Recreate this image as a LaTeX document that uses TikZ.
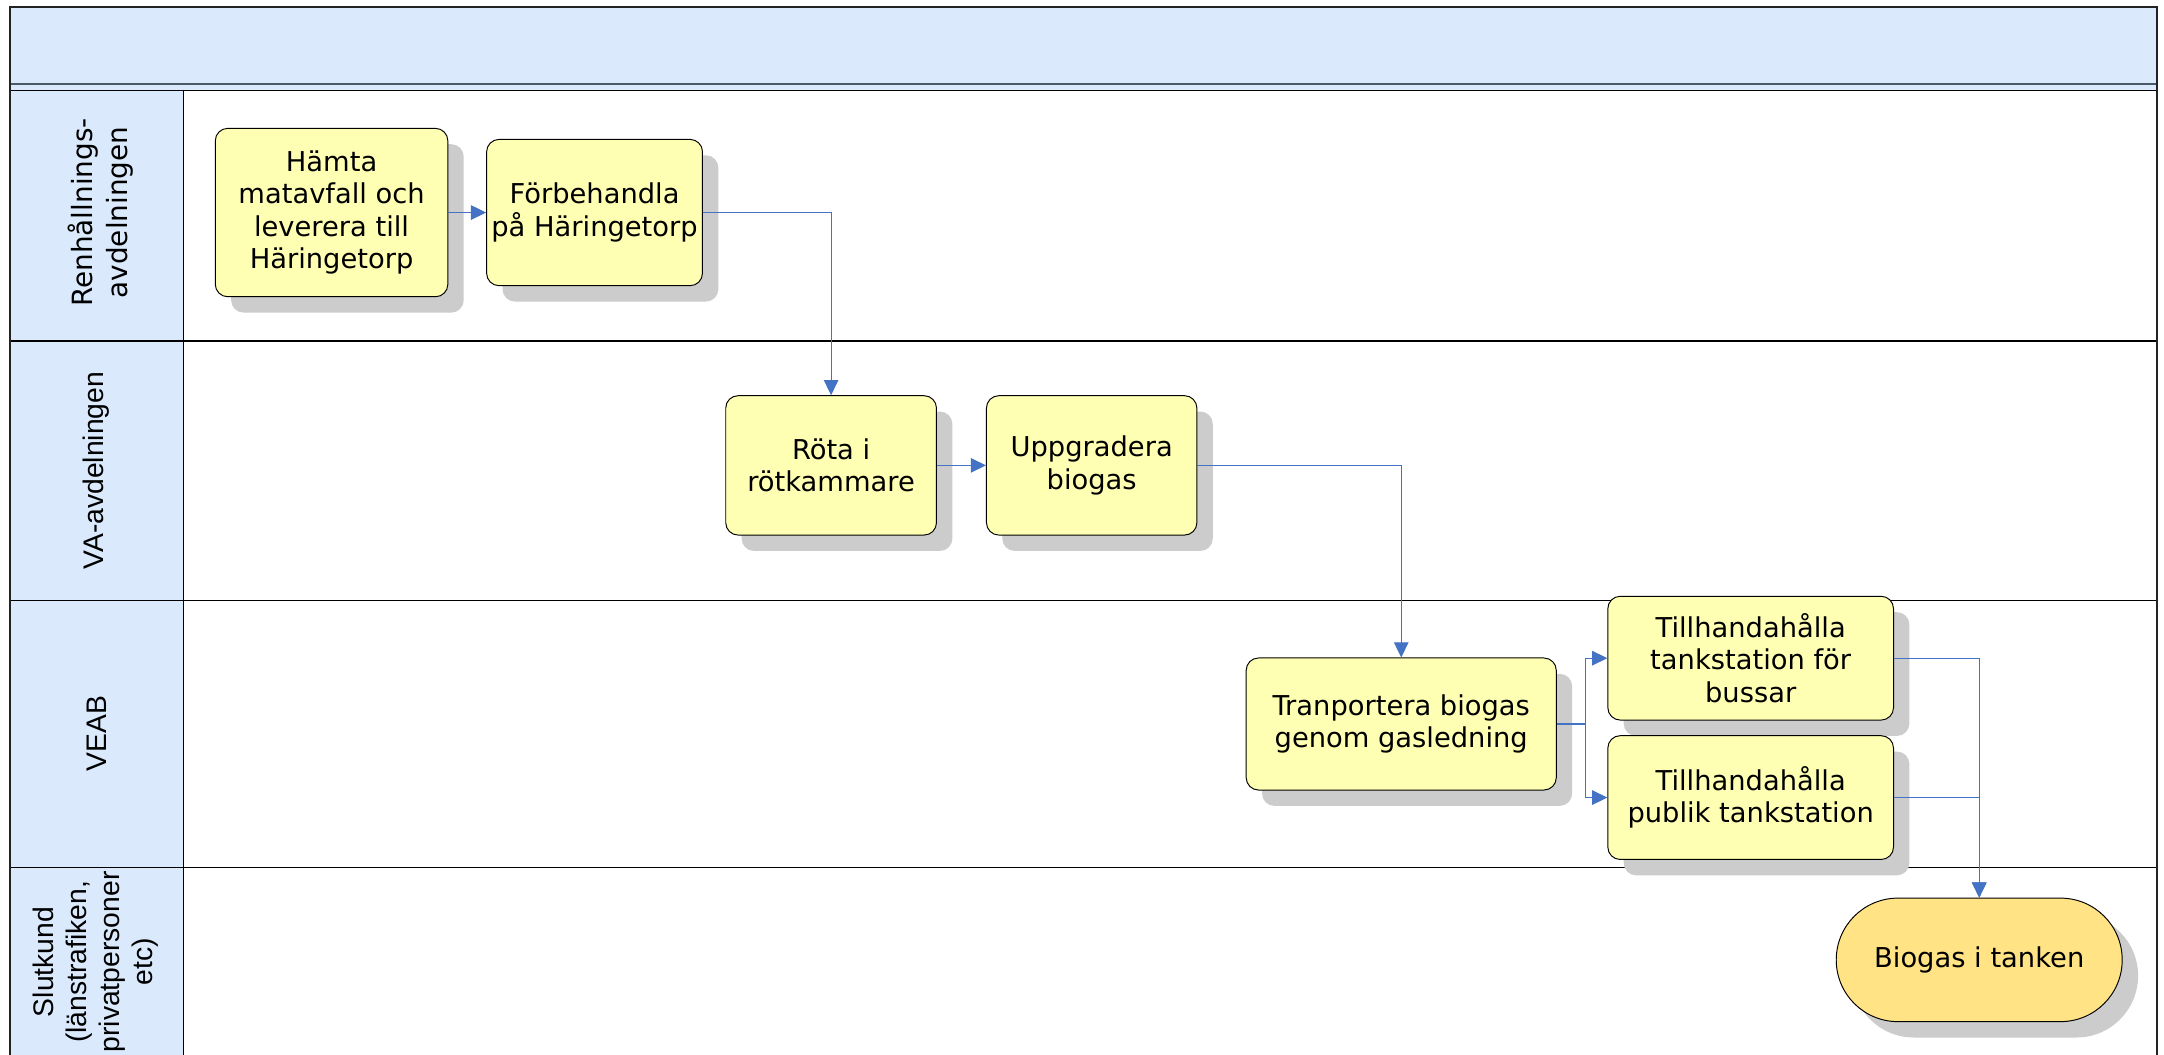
\documentclass[tikz,border=0pt]{standalone}
\usepackage{fontspec}
\setmainfont{DejaVu Sans}
\newfontfamily\lanefont{Liberation Sans}
\usetikzlibrary{arrows.meta,shadows}

\definecolor{laneblue}{RGB}{218,234,252}
\definecolor{taskyellow}{RGB}{255,255,179}
\definecolor{endyellow}{RGB}{255,227,132}
\definecolor{shadowgray}{RGB}{204,204,204}
\definecolor{flowblue}{RGB}{68,114,196}
\definecolor{headline}{RGB}{74,88,104}
\definecolor{frame}{RGB}{35,35,35}

\tikzset{
  boxshadow/.style={drop shadow={shadow xshift=11.5pt, shadow yshift=-11.5pt,
      fill=shadowgray, opacity=1}},
  task/.style={draw=black, line width=0.7pt, fill=taskyellow, rounded corners=9pt,
    inner sep=0pt, align=center, boxshadow,
    font=\fontsize{19.8}{23.5}\selectfont},
  terminal/.style={task, fill=endyellow, rounded corners=44.7pt},
  flow/.style={draw=flowblue, line width=0.8pt,
    -{Triangle[length=11pt,width=10.5pt]}},
  lanerule/.style={draw=black, line width=0.9pt},
  lanelabel/.style={rotate=90, align=center, inner sep=0pt},
}

\begin{document}
\begin{tikzpicture}[x=1pt,y=-1pt]
  \clip (0,0) rectangle (1568,764);
  \fill[white] (0,0) rectangle (1568,764);

  % header band and lane title column
  \fill[laneblue] (7,5) rectangle (1563,65.5);
  \fill[laneblue] (7,65.5) rectangle (133,780);
  \draw[headline, line width=1.3pt] (7,61) -- (1563,61);
  \draw[lanerule] (7,65.5) -- (1563,65.5);

  % lane separators
  \draw[lanerule] (7,247) -- (1563,247);
  \draw[lanerule] (7,435.2) -- (1563,435.2);
  \draw[lanerule] (7,628.4) -- (1563,628.4);
  \draw[lanerule] (133,65.5) -- (133,780);

  % lane titles
  \node[lanelabel, font=\fontsize{20.2}{25}\selectfont] (l1) at (73,154)
    {Renhållnings-\\avdelningen};
  \node[lanelabel, font=\lanefont\fontsize{20.5}{24}\selectfont] (l2) at (70,341)
    {VA-avdelningen};
  \node[lanelabel, font=\lanefont\fontsize{20.5}{24}\selectfont] (l3) at (70,531.5)
    {VEAB};
  \node[lanelabel, font=\lanefont\fontsize{20.5}{24}\selectfont] (l4) at (69.5,697)
    {Slutkund\\(länstrafiken,\\privatpersoner\\etc)};

  % process steps
  \node[task, minimum width=168.5pt, minimum height=122pt] (hamta) at (240.25,154)
    {Hämta\\matavfall och\\leverera till\\Häringetorp};
  \node[task, minimum width=156.4pt, minimum height=106pt] (forb) at (430.8,154)
    {Förbehandla\\på Häringetorp};
  \node[task, minimum width=152.7pt, minimum height=101pt] (rota) at (602.2,337.2)
    {Röta i\\rötkammare};
  \node[task, minimum width=152.5pt, minimum height=101pt] (uppg) at (791,337.2)
    {Uppgradera\\biogas};
  \node[task, minimum width=224.7pt, minimum height=95.7pt] (tran) at (1015.3,524.6)
    {Tranportera biogas\\genom gasledning};
  \node[task, minimum width=207pt, minimum height=89.7pt] (bus) at (1268.5,476.9)
    {Tillhandahålla\\tankstation för\\bussar};
  \node[task, minimum width=207pt, minimum height=89.7pt] (pub) at (1268.5,577.9)
    {Tillhandahålla\\publik tankstation};
  \node[terminal, minimum width=207.2pt, minimum height=89.5pt] (tank) at (1434.1,695.5)
    {Biogas i tanken};

  % flow connectors
  \coordinate (split) at (1149,524.6);
  \draw[flow] (hamta.east) -- (forb.west);
  \draw[flow] (forb.east) -| (rota.north);
  \draw[flow] (rota.east) -- (uppg.west);
  \draw[flow] (uppg.east) -| (tran.north);
  \draw[flow] (tran.east) -- (split) |- (bus.west);
  \draw[flow] (split) |- (pub.west);
  \draw[flow] (pub.east) -| (tank.north);
  \draw[flow] (bus.east) -| (tank.north);

  % outer frame
  \draw[frame, line width=1.4pt] (7,5) rectangle (1563,790);
\end{tikzpicture}
\end{document}
